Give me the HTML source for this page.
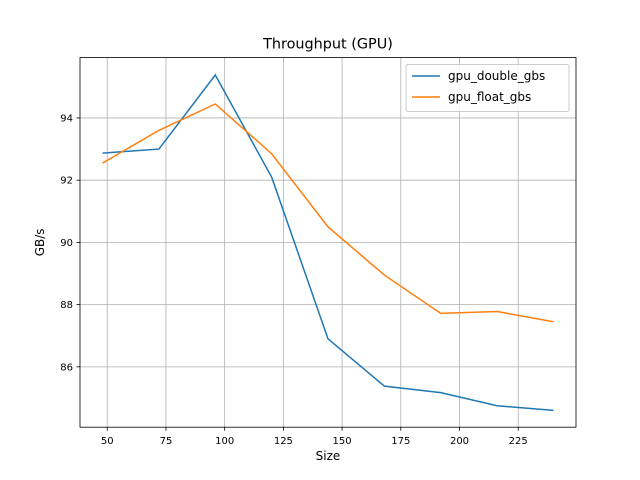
<!DOCTYPE html>
<html><head><meta charset="utf-8"><style>
body{margin:0;background:#fff;}
svg{display:block;font-family:"DejaVu Sans","Liberation Sans",sans-serif;}
</style></head><body>
<svg id="chart" width="640" height="480"></svg>
<script>
const sizes=[48,72,96,120,144,168,192,216,240];
const gpuDouble=[92.87,93.0,95.38,92.1,86.9,85.38,85.17,84.75,84.6];
const gpuFloat=[92.55,93.6,94.45,92.85,90.5,88.95,87.72,87.78,87.45];
const xTicks=[50,75,100,125,150,175,200,225];
const yTicks=[86,88,90,92,94];
const L=80,R=576,T=57.6,B=427.2;
const xMin=38.4,xMax=249.6,yMin=84.06,yMax=95.94;
const xs=v=>L+(v-xMin)/(xMax-xMin)*(R-L);
const ys=v=>B-(v-yMin)/(yMax-yMin)*(B-T);
const svg=document.getElementById('chart');
const NS='http://www.w3.org/2000/svg';
function mk(tag,attrs,parent){const e=document.createElementNS(NS,tag);for(const k in attrs)e.setAttribute(k,attrs[k]);(parent||svg).appendChild(e);return e;}
xTicks.forEach(t=>{const x=xs(t);
const g=mk('line',{x1:x,x2:x,y1:T,y2:B,stroke:'#b0b0b0','stroke-width':0.8});


mk('line',{x1:x,x2:x,y1:B,y2:B+3.5,stroke:'#000','stroke-width':0.8});
const tx=mk('text',{x:x,y:B+17,'text-anchor':'middle','font-size':10});tx.textContent=t;


});
yTicks.forEach(t=>{const y=ys(t);
const g=mk('line',{x1:L,x2:R,y1:y,y2:y,stroke:'#b0b0b0','stroke-width':0.8});


mk('line',{x1:L-3.5,x2:L,y1:y,y2:y,stroke:'#000','stroke-width':0.8});
const tx=mk('text',{x:L-7,y:y+3.5,'text-anchor':'end','font-size':10});tx.textContent=t;


});
function line(data,color,name){const p=mk('polyline',{points:data.map((v,i)=>xs(sizes[i])+','+ys(v)).join(' '),fill:'none',stroke:color,'stroke-width':1.5});

}
line(gpuDouble,'#1f77b4','gpu-double-line');
line(gpuFloat,'#ff7f0e','gpu-float-line');
const fr=mk('rect',{x:L,y:T,width:R-L,height:B-T,fill:'none',stroke:'#000','stroke-width':0.8});


const ti=mk('text',{x:(L+R)/2,y:T-9,'text-anchor':'middle','font-size':14.4});ti.textContent='Throughput (GPU)';


const xl=mk('text',{x:(L+R)/2,y:B+33,'text-anchor':'middle','font-size':12});xl.textContent='Size';


const yl=mk('text',{x:0,y:0,'text-anchor':'middle','font-size':12,transform:`translate(44,${(T+B)/2}) rotate(-90)`});yl.textContent='GB/s';


const lg=mk('rect',{x:406,y:64.5,width:163,height:47,fill:'#fff','fill-opacity':0.8,stroke:'#ccc',rx:2});


[['gpu_double_gbs','#1f77b4',80],['gpu_float_gbs','#ff7f0e',101]].forEach(([n,c,y])=>{
mk('line',{x1:412,x2:440,y1:y-4,y2:y-4,stroke:c,'stroke-width':1.5});
const t=mk('text',{x:448,y:y,'font-size':12});t.textContent=n;


});
</script>
</body></html>
